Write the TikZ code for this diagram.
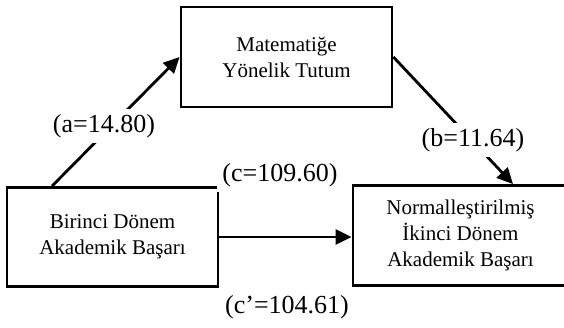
\documentclass[tikz,border=0pt]{standalone}
\usepackage{fontspec}
\setmainfont{Liberation Serif}
\usetikzlibrary{arrows.meta}
\tikzset{
  box/.style={draw=black, line width=2.8pt, fill=white, align=center, inner sep=0pt,
    font=\fontsize{21}{26}\selectfont},
  conn/.style={line width=2.8pt, -{Triangle[length=16pt,width=15pt]}},
  lbl/.style={fill=white, inner sep=5pt, font=\fontsize{26}{30}\selectfont}
}
\begin{document}
\begin{tikzpicture}[x=1pt,y=-1pt]
\useasboundingbox (0,0) rectangle (564,327);
\node[box, minimum width=211pt, minimum height=100pt] (T) at (286.5,57) {Matematiğe\\Yönelik Tutum};
\node[box, minimum width=211pt, minimum height=99pt] (L) at (112.5,237) {Birinci Dönem\\Akademik Başarı};
\node[box, minimum width=215pt, minimum height=100pt] (R) at (460.5,235.5) {Normalleştirilmiş\\İkinci Dönem\\Akademik Başarı};
\draw[conn] ([xshift=-60.5pt]L.north) -- (T.west);
\draw[conn] (T.east) -- ([xshift=52.5pt]R.north);
\draw[conn] (L.east) -- (L.east -| R.west);
\node[lbl] (la) at (104,126) {(a=14.80)};
\node[lbl] (lb) at (473,140) {(b=11.64)};
\node[lbl] (lc) at (280,175) {(c=109.60)};
\node[lbl] (ld) at (287,307) {(c’=104.61)};
\end{tikzpicture}
\end{document}
